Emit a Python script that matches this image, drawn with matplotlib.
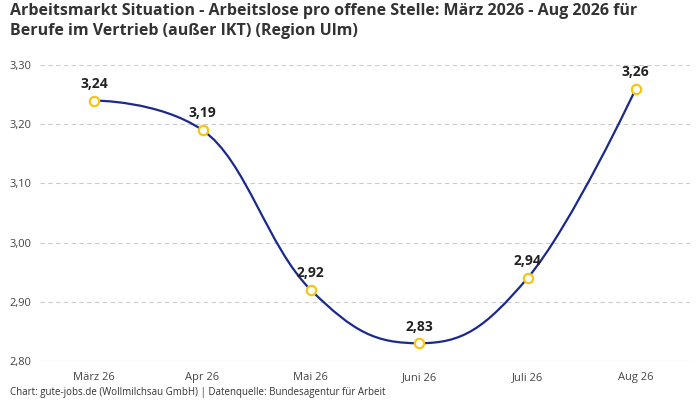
import matplotlib
matplotlib.use("Agg")
import matplotlib.pyplot as plt
from matplotlib.path import Path
from matplotlib.patches import PathPatch

categories = ["März 26", "Apr 26", "Mai 26", "Juni 26", "Juli 26", "Aug 26"]
values = [3.24, 3.19, 2.92, 2.83, 2.94, 3.26]
yticks = [2.80, 2.90, 3.00, 3.10, 3.20, 3.30]

plt.rcParams['font.family'] = ['Open Sans', 'DejaVu Sans']
fig = plt.figure(figsize=(7, 4), dpi=100)
ax = fig.add_axes([40/700, 1-361/400, 650/700, 296/400])
xs = list(range(len(values)))

def spline_path(x, y, s=1.5):
    d = s + 1
    verts = [(x[0], y[0])]; codes = [Path.MOVETO]
    ctrl = []
    for i in range(len(x)):
        if i == 0 or i == len(x) - 1:
            ctrl.append(((x[i], y[i]), (x[i], y[i]))); continue
        lx = (s*x[i] + x[i-1])/d; ly = (s*y[i] + y[i-1])/d
        rx = (s*x[i] + x[i+1])/d; ry = (s*y[i] + y[i+1])/d
        corr = ((ry - ly)*(rx - x[i]))/(rx - lx) + y[i] - ry
        ly += corr; ry += corr
        if ly > y[i-1] and ly > y[i]:
            ly = max(y[i-1], y[i]); ry = 2*y[i] - ly
        elif ly < y[i-1] and ly < y[i]:
            ly = min(y[i-1], y[i]); ry = 2*y[i] - ly
        if ry > y[i+1] and ry > y[i]:
            ry = max(y[i+1], y[i]); ly = 2*y[i] - ry
        elif ry < y[i+1] and ry < y[i]:
            ry = min(y[i+1], y[i]); ly = 2*y[i] - ry
        ctrl.append(((lx, ly), (rx, ry)))
    for i in range(1, len(x)):
        verts += [ctrl[i-1][1], ctrl[i][0], (x[i], y[i])]
        codes += [Path.CURVE4]*3
    return Path(verts, codes)

ax.add_patch(PathPatch(spline_path(xs, values), fill=False, edgecolor='#1a2a8c', lw=1.6, zorder=3))
ax.scatter(xs, values, s=45, facecolor='white', edgecolor='#f5c518', linewidth=1.6, zorder=4)
for x, v in zip(xs, values):
    ax.annotate(f"{v:.2f}".replace('.', ','), (x, v), xytext=(0, 7), textcoords='offset points',
                ha='center', va='bottom', fontsize=10, fontweight='bold', color='#222222')

ax.set_xlim(-0.5, len(values) - 0.5)
ax.set_ylim(2.80, 3.30)
ax.set_yticks(yticks)
ax.set_yticklabels([f"{t:.2f}".replace('.', ',') for t in yticks], fontsize=8, color='#444444')
ax.set_xticks(xs)
ax.set_xticklabels(categories, fontsize=8, color='#444444')
ax.tick_params(length=0, pad=8)
ax.tick_params(axis='y', pad=6)
ax.grid(axis='y', color='#cccccc', linestyle=(0, (4, 3)), lw=0.8)
for sp in ax.spines.values():
    sp.set_visible(False)
ax.axhline(2.80, color='#cccccc', lw=0.8)

fig.text(10/700, 1-3/400, "Arbeitsmarkt Situation - Arbeitslose pro offene Stelle: März 2026 - Aug 2026 für\nBerufe im Vertrieb (außer IKT) (Region Ulm)",
         ha='left', va='top', fontsize=11.5, fontweight='bold', color='#333333', linespacing=1.3)
fig.text(10/700, 1-393/400, "Chart: gute-jobs.de (Wollmilchsau GmbH) | Datenquelle: Bundesagentur für Arbeit",
         ha='left', va='center', fontsize=7, color='#333333')
fig.savefig("out.png", dpi=100)
